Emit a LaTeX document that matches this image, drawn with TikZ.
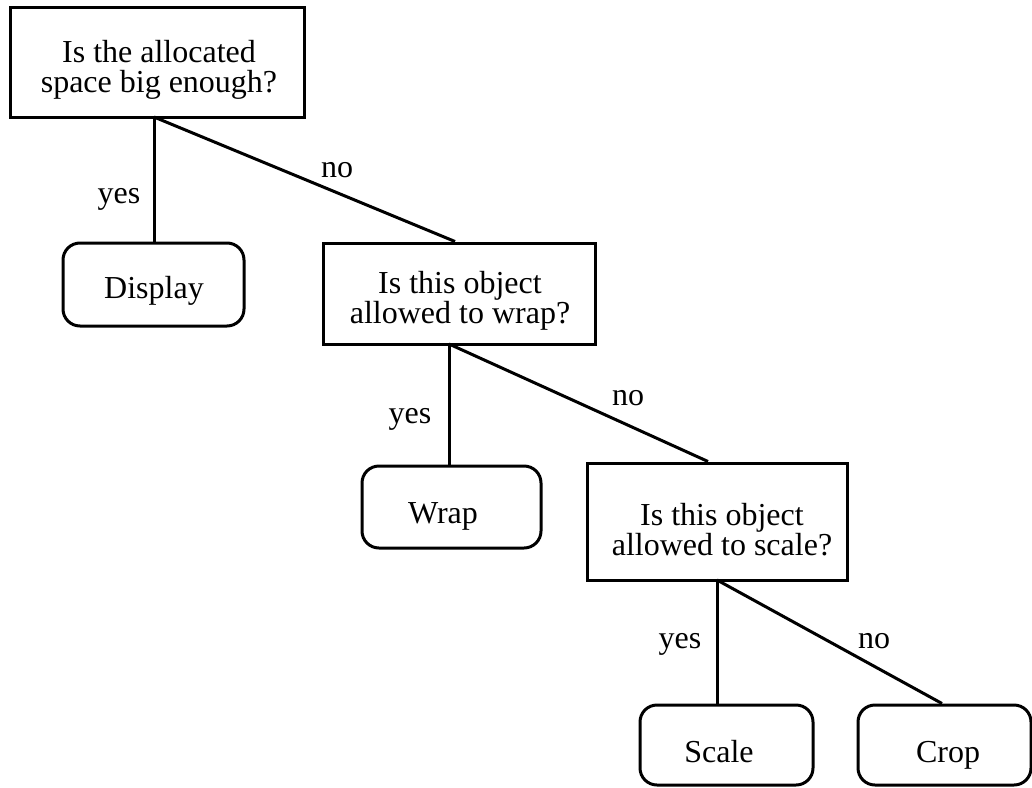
\documentclass[tikz,border=0pt]{standalone}
\usepackage{fontspec}
\setmainfont{Liberation Serif}
\begin{document}
\begin{tikzpicture}[x=1pt,y=-1pt,
  qbox/.style={draw, line width=3pt, rectangle, inner sep=0pt},
  abox/.style={draw, line width=3pt, rectangle, rounded corners=17pt, inner sep=0pt},
  txt/.style={inner sep=0pt, align=center, font=\fontsize{32}{30}\selectfont},
  lbl/.style={inner sep=0pt, anchor=base, font=\fontsize{32}{30}\selectfont},
  conn/.style={line width=3pt}]
\useasboundingbox (0,0) rectangle (1032,787);
% question boxes
\node[qbox, minimum width=294pt, minimum height=110pt] (q1) at (157,62) {};
\node[txt] (q1t) at (159,69.5) {Is the allocated\\space big enough?};
\node[qbox, minimum width=272pt, minimum height=101pt] (q2) at (459,293.5) {};
\node[txt] (q2t) at (460,300.5) {Is this object\\allowed to wrap?};
\node[qbox, minimum width=260pt, minimum height=117pt] (q3) at (717,521.5) {};
\node[txt] (q3t) at (722,529.5) {Is this object\\allowed to scale?};
% answer boxes
\node[abox, minimum width=181pt, minimum height=83pt] (d) at (153.5,284.5) {};
\node[lbl] (dt) at (154,298) {Display};
\node[abox, minimum width=179pt, minimum height=82pt] (w) at (451.5,507) {};
\node[lbl] (wt) at (443,523) {Wrap};
\node[abox, minimum width=173pt, minimum height=80pt] (s) at (726.5,745) {};
\node[lbl] (st) at (719,762) {Scale};
\node[abox, minimum width=173pt, minimum height=80pt] (c) at (944.5,745) {};
\node[lbl] (ct) at (948,762) {Crop};
% branch points
\coordinate (j1) at (154,117);
\coordinate (j2) at (449,344);
\coordinate (j3) at (717,580);
% connectors
\draw[conn] (j1) -- (j1 |- d.north);
\draw[conn] (j1) -- ([xshift=-4pt]q2.north);
\draw[conn] (j2) -- (j2 |- w.north);
\draw[conn] (j2) -- ([xshift=-9pt]q3.north);
\draw[conn] (j3) -- (j3 |- s.north);
\draw[conn] (j3) -- ([xshift=-2.5pt]c.north);
% labels
\node[lbl] (y1) at (119,203) {yes};
\node[lbl] (n1) at (337,177) {no};
\node[lbl] (y2) at (410,423) {yes};
\node[lbl] (n2) at (628,405) {no};
\node[lbl] (y3) at (680,648) {yes};
\node[lbl] (n3) at (874,648) {no};
\end{tikzpicture}
\end{document}
